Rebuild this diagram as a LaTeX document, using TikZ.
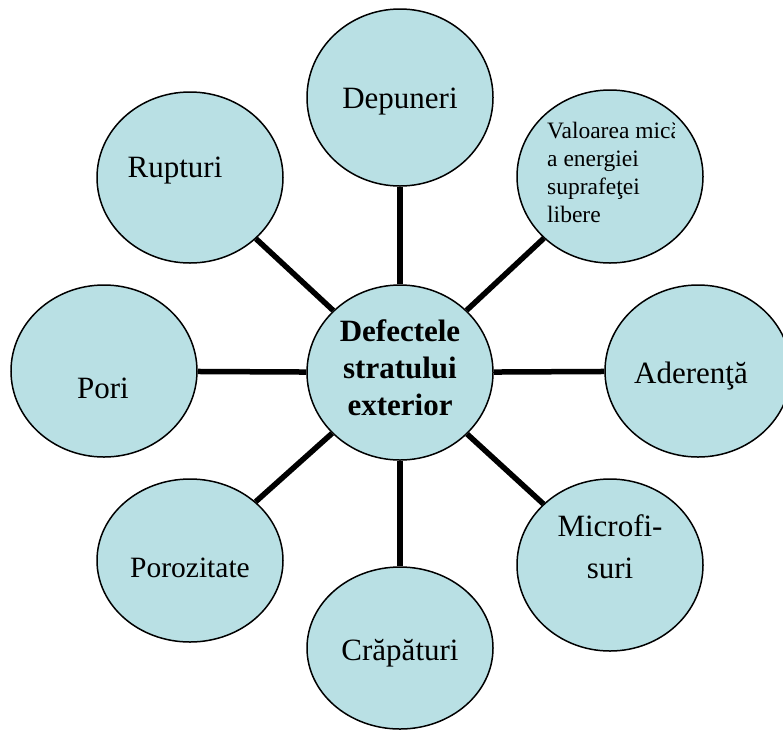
\documentclass[tikz,border=0pt]{standalone}
\usepackage{fontspec}
\setmainfont{Liberation Serif}
\usetikzlibrary{shapes.geometric}
\definecolor{bubble}{RGB}{185,224,228}
\begin{document}
\begin{tikzpicture}[x=1pt,y=-1pt,
  bub/.style={ellipse, draw=black, line width=1.5pt, fill=bubble, inner sep=0pt, minimum width=186pt},
  conn/.style={line width=5.5pt, draw=black},
  lbl/.style={anchor=base, inner sep=0pt, font=\fontsize{31}{37}\selectfont},
  small/.style={anchor=base west, inner sep=0pt, font=\fontsize{23.5}{28}\selectfont},
]
\useasboundingbox (0,0) rectangle (783,729);
% bubbles
\node[bub, minimum height=175pt] (c)    at (400,372.5) {};
\node[bub, minimum height=177pt] (dep)  at (400,97.5) {};
\node[bub, minimum height=173pt] (val)  at (610,176.5) {};
\node[bub, minimum height=171pt] (rup)  at (190,177.5) {};
\node[bub, minimum height=172pt] (pori) at (104,371) {};
\node[bub, minimum height=172pt] (ad)   at (698,371) {};
\node[bub, minimum height=163pt] (poz)  at (190,560.5) {};
\node[bub, minimum height=172pt] (mic)  at (610,565) {};
\node[bub, minimum height=162pt] (cra)  at (400,648) {};
% connectors
\draw[conn] (c) -- (dep);
\draw[conn] (c) -- (val);
\draw[conn] (c) -- (rup);
\draw[conn] (c) -- (pori);
\draw[conn] (c) -- (ad);
\draw[conn] (c) -- (poz);
\draw[conn] (c) -- (mic);
\draw[conn] (c) -- (cra);
% texts
\node[lbl, font=\fontsize{31}{37}\selectfont\bfseries] (t1) at (400,341) {Defectele};
\node[lbl, font=\fontsize{31}{37}\selectfont\bfseries] (t2) at (400,378) {stratului};
\node[lbl, font=\fontsize{31}{37}\selectfont\bfseries] (t3) at (400,415) {exterior};
\node[lbl] (tdep) at (400,108) {Depuneri};
\node[lbl] (trup) at (175,177) {Rupturi};
\node[lbl] (tpori) at (103,398) {Pori};
\node[lbl] (tad) at (691,383) {Aderenţă};
\node[lbl] (tcra) at (400,660) {Crăpături};
\node[lbl, font=\fontsize{29.5}{35}\selectfont] (tpoz) at (190,577) {Porozitate};
\node[lbl] (tmic1) at (610,536) {Microfi-};
\node[lbl] (tmic2) at (610,578) {suri};
\begin{scope}
  \clip (517,90) rectangle (674.5,263);
  \node[small] (tv1) at (547,138) {Valoarea mică};
\end{scope}
\node[small] (tv2) at (547,166) {a energiei};
\node[small] (tv3) at (547,194) {suprafeţei};
\node[small] (tv4) at (547,222) {libere};
\end{tikzpicture}
\end{document}
